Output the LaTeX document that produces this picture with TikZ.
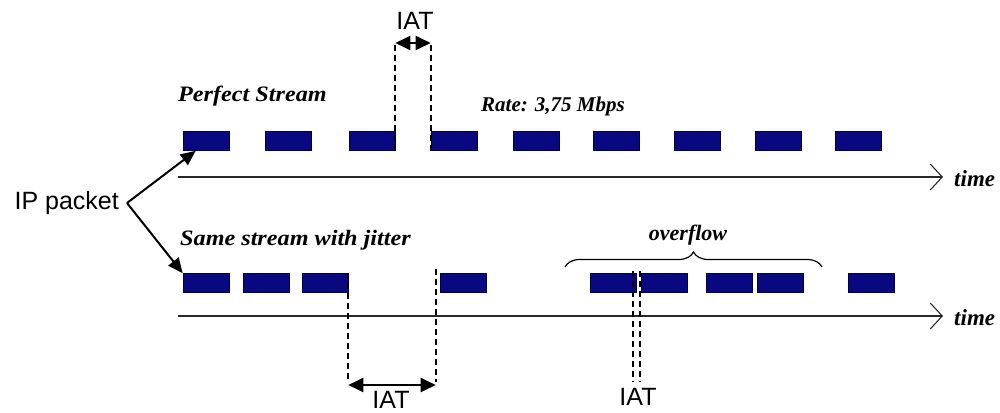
\documentclass[tikz,border=0pt]{standalone}
\usepackage{fontspec}
\setmainfont{Liberation Serif}
\newfontfamily\widef[FakeStretch=1.1]{Liberation Serif}
\newfontfamily\arialf{Liberation Sans}
\usetikzlibrary{arrows.meta,decorations.pathreplacing}
\definecolor{pkt}{RGB}{8,8,128}
\definecolor{pktb}{RGB}{0,0,60}
\definecolor{axis}{RGB}{40,40,40}
\tikzset{
  packet/.style={draw=pktb,fill=pkt,line width=0.6pt,minimum width=46pt,minimum height=19pt,inner sep=0pt},
  serif/.style={font=\fontsize{21}{23}\selectfont\bfseries\itshape,inner sep=0pt},
  wideserif/.style={font=\widef\fontsize{22}{24}\selectfont\bfseries\itshape,inner sep=0pt},
  sans/.style={font=\arialf\fontsize{25}{27}\selectfont,inner sep=0pt},
  axisline/.style={draw=axis,line width=1.5pt,-{Straight Barb[length=12pt,width=26pt,line width=1.1pt]}},
  dashline/.style={draw=black,line width=1.8pt,dash pattern=on 6pt off 4pt},
  iatarrow/.style={draw=black,line width=2.2pt,{Triangle[length=15pt,width=14pt]}-{Triangle[length=15pt,width=14pt]}},
  iparrow/.style={draw=black,line width=2pt,-{Triangle[length=15pt,width=13pt]}},
}
\begin{document}
\begin{tikzpicture}[x=1pt,y=-1pt]
\useasboundingbox (0,0) rectangle (1000,412);
% texts
\node[wideserif,anchor=west] (perfect) at (178,96) {Perfect Stream};
\node[serif,anchor=west] (rate) at (481,106) {Rate: 3,75 Mbps};
\node[wideserif,anchor=west] (same) at (180,240) {Same stream with jitter};
\node[serif,font=\fontsize{22}{24}\selectfont\bfseries\itshape] (overflow) at (688,235) {overflow};
\node[serif,font=\fontsize{23}{25}\selectfont\bfseries\itshape,anchor=west] (time1) at (954,179) {time};
\node[serif,font=\fontsize{23}{25}\selectfont\bfseries\itshape,anchor=west] (time2) at (954,318) {time};
% top packets
\foreach \i/\x in {1/183,2/265,3/349,4/431,5/513,6/593,7/674,8/755,9/835}{
  \node[packet] (p\i) at (\x+23,141) {};
}
% lower packets
\foreach \i/\x in {1/183,2/243,3/302,4/440,5/590,6/641,7/706,8/757,9/848}{
  \node[packet] (q\i) at (\x+23,283) {};
}
% axes
\coordinate (a1s) at (178,177);
\coordinate (a1e) at (943,177);
\coordinate (a2s) at (178,316);
\coordinate (a2e) at (943,316);
\draw[axisline] (a1s) -- (a1e);
\draw[axisline] (a2s) -- (a2e);
% IP packet
\node[sans,anchor=east] (ip) at (119,203) {IP packet};
\coordinate (ipt) at ([xshift=13pt]p1.south west);
\draw[iparrow] ([xshift=8pt]ip.east) -- (ipt);
\draw[iparrow] ([xshift=8pt]ip.east) -- (q1.north west);
% top IAT
\coordinate (tl) at (0,43);
\node[sans] (iat1) at (415,21) {IAT};
\draw[dashline] (p3.south east) -- (p3.south east |- tl);
\draw[dashline] (p4.south west) -- (p4.south west |- tl);
\draw[iatarrow] (p3.south east |- tl) -- (p4.south west |- tl);
% lower IAT 1
\coordinate (bl) at (0,382);
\coordinate (ba) at (0,385);
\coordinate (q4d) at ([xshift=-4pt]q4.north west);
\node[sans] (iat2) at (391,400) {IAT};
\draw[dashline] (q3.north east) -- (q3.north east |- bl);
\draw[dashline] ([yshift=4pt]q4d) -- (q4d |- bl);
\draw[iatarrow] (q3.north east |- ba) -- (q4d |- ba);
% lower IAT 2
\coordinate (q5d) at ([xshift=-3pt,yshift=2pt]q5.north east);
\coordinate (q6d) at ([xshift=-1pt,yshift=2pt]q6.north west);
\node[sans] (iat3) at (638,397) {IAT};
\draw[dashline] (q5d) -- (q5d |- bl);
\draw[dashline] (q6d) -- (q6d |- bl);
% overflow brace
\coordinate (bs) at (565,267);
\coordinate (be) at (822,267);
\draw[line width=1.2pt,decorate,decoration={brace,amplitude=15pt}] (bs) -- (be);
\end{tikzpicture}
\end{document}
